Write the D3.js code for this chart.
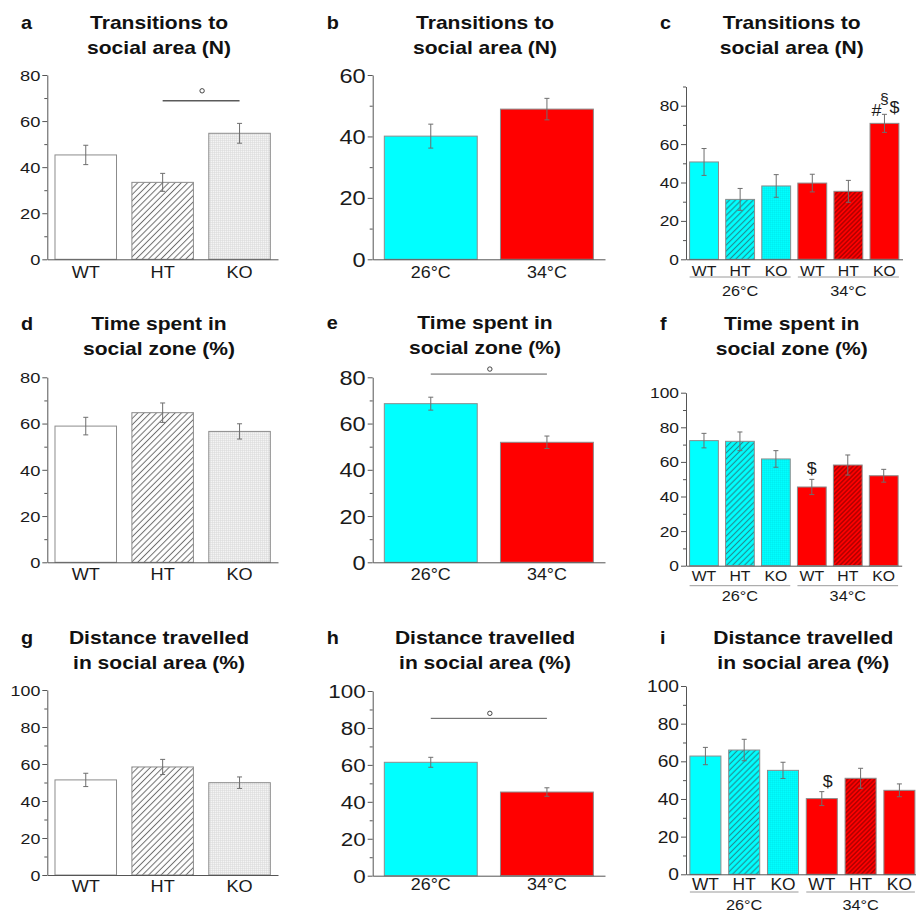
<!DOCTYPE html>
<html><head><meta charset="utf-8">
<script src="https://cdn.jsdelivr.net/npm/d3@7"></script>
<style>
body{margin:0;background:#fff}
svg{display:block}
text{font-family:"Liberation Sans",Arial,Helvetica,sans-serif;fill:#1a1a1a}
</style>
</head><body>
<svg id="fig" width="916" height="913"></svg>
<script>
// ---------- data ----------
const genotypes = ["WT","HT","KO"];
const temps = ["26°C","34°C"];
const genoTemp = ["WT","HT","KO","WT","HT","KO"];
const ticks60 = [0,20,40,60];
const ticks80 = [0,20,40,60,80];
const ticks100 = [0,20,40,60,80,100];
const titleTrans = ["Transitions to","social area (N)"];
const titleTime = ["Time spent in","social zone (%)"];
const titleDist = ["Distance travelled","in social area (%)"];

const transGeno = [45.3,33.4,54.7];
const transGenoErr = [4.2,3.9,4.3];
const transTemp = [40.1,48.9];
const transTempErr = [3.9,3.5];
const transGT = [50.7,31.2,38.2,39.7,35.4,70.8];
const transGTErr = [7.0,5.7,5.9,4.6,5.7,4.7];

const timeGeno = [58.9,64.7,56.6];
const timeGenoErr = [3.8,4.2,3.3];
const timeTemp = [68.6,51.9];
const timeTempErr = [2.8,2.7];
const timeGT = [72.3,71.9,61.7,45.5,58.2,52.0];
const timeGTErr = [4.2,5.4,4.8,4.4,5.8,3.7];

const distGeno = [51.4,58.4,49.9];
const distGenoErr = [3.6,4.1,3.1];
const distTemp = [61.4,45.3];
const distTempErr = [2.7,2.3];
const distGT = [62.8,66.0,55.2,40.2,51.0,44.6];
const distGTErr = [4.6,5.7,4.3,3.7,5.3,3.4];

// significance brackets: [fromIndex, toIndex, yValue]
const sigTransGeno = [1,2,68.8];
const sigTimeTemp = [0,1,81.4];
const sigDistTemp = [0,1,85.2];
// symbol annotations: [barIndex, symbol]
const symTransGT = [[5,"#"],[5,"§"],[5,"$"]];
const symTimeGT = [[3,"$"]];
const symDistGT = [[3,"$"]];

// ---------- drawing ----------
const svg = d3.select("#fig");
const defs = svg.append("defs");
function hatch(id, bg, line, size, w){
  const p = defs.append("pattern").attr("id",id).attr("patternUnits","userSpaceOnUse")
    .attr("width",size).attr("height",size).attr("patternTransform","rotate(45)");
  p.append("rect").attr("width",size).attr("height",size).attr("fill",bg);
  p.append("line").attr("x1",size/2).attr("x2",size/2).attr("y1",0).attr("y2",size)
    .attr("stroke",line).attr("stroke-width",w);
}
function grid(id, bg, line){
  const p = defs.append("pattern").attr("id",id).attr("patternUnits","userSpaceOnUse")
    .attr("width",2).attr("height",2);
  p.append("rect").attr("width",2).attr("height",2).attr("fill",bg);
  p.append("path").attr("d","M0,0.5H2M0.5,0V2").attr("stroke",line).attr("stroke-width",0.5);
}
hatch("hGray","#ffffff","#6e6e6e",4.4,1);
hatch("hCyan","#00ffff","#1f8f94",4.2,1.2);
hatch("hRed","#ff0000","#8a0000",3.2,1);
grid("gGray","#f4f4f4","#d9d9d9");
grid("gCyan","#00ffff","rgba(0,110,120,0.13)");

const CY = "#00ffff", RD = "#ff0000";
const genoFills = ["#ffffff","url(#hGray)","url(#gGray)"];
const tempFills = [CY, RD];
const gtFills = [CY,"url(#hCyan)","url(#gCyan)",RD,"url(#hRed)",RD];

function txt(g, x, y, s, o){
  return g.append("text")
    .attr("transform",`translate(${x},${y}) scale(${o.sx||1},1)`)
    .attr("text-anchor",o.anchor||"middle")
    .style("font-size",o.size+"px")
    .attr("font-weight",o.weight||"normal")
    .style("fill",o.fill||"#1a1a1a")
    .text(s);
}

const geno = {cats:genotypes, fills:genoFills, x0:47.3, x1:278, tickFs:15.5, tickSx:1.18, xFs:16.5, xSx:1.1, titleX:159, letterX:21};
const temp = {cats:temps, fills:tempFills, x0:372.7, x1:605, tickFs:20, tickSx:1.18, xFs:16, xSx:1.12, titleX:485, letterX:326.7};
const gt = {cats:genoTemp, fills:gtFills, x0:686, x1:902.5, tickFs:14.5, tickSx:1.2, xFs:15.5, xSx:1.02, titleX:791.7, letterX:660, groups:true};

const panels = [
  Object.assign({}, geno, {letter:"a", title:titleTrans, vals:transGeno, errs:transGenoErr, yMax:80, ticks:ticks80, y0:259.3, yTop:75, tY:29.3, xOff:19, sig:sigTransGeno, ringOff:-10, sigW:1.5}),
  Object.assign({}, temp, {letter:"b", title:titleTrans, vals:transTemp, errs:transTempErr, yMax:60, ticks:ticks60, y0:259.3, yTop:75, tY:29.3, xOff:19}),
  Object.assign({}, gt, {letter:"c", title:titleTrans, vals:transGT, errs:transGTErr, yMax:90, ticks:ticks80, y0:259.3, yTop:86.5, tY:29.3, xOff:16.2, gLine:17.7, gLab:36.5, syms:symTransGT, symOff:[[-8,1.5],[0,-10.5],[10,-1.5]]}),
  Object.assign({}, geno, {letter:"d", title:titleTime, vals:timeGeno, errs:timeGenoErr, yMax:80, ticks:ticks80, y0:562.3, yTop:377.3, tY:330, xOff:17.7}),
  Object.assign({}, temp, {letter:"e", title:titleTime, vals:timeTemp, errs:timeTempErr, yMax:80, ticks:ticks80, y0:562.3, yTop:377.3, tY:329, xOff:17.7, sig:sigTimeTemp, ringOff:-5, sigW:1}),
  Object.assign({}, gt, {letter:"f", title:titleTime, vals:timeGT, errs:timeGTErr, yMax:100, ticks:ticks100, y0:565.7, yTop:392.7, tY:330, xOff:15.3, gLine:20, gLab:35, x1:901.7, syms:symTimeGT, symOff:[[0,-5.5]]}),
  Object.assign({}, geno, {letter:"g", title:titleDist, vals:distGeno, errs:distGenoErr, yMax:100, ticks:ticks100, y0:875, yTop:690, tY:644.3, xOff:16.7, tickSx:1.15}),
  Object.assign({}, temp, {letter:"h", title:titleDist, vals:distTemp, errs:distTempErr, yMax:100, ticks:ticks100, y0:875.7, yTop:691, tY:644.3, xOff:14.5, tickFs:19, sig:sigDistTemp, ringOff:-5, sigW:1}),
  Object.assign({}, gt, {letter:"i", title:titleDist, vals:distGT, errs:distGTErr, yMax:100, ticks:ticks100, y0:874.3, yTop:686, tY:644.3, xOff:16, gLine:17.7, gLab:35.7, x1:918.8, tickFs:16, xFs:15.8, xSx:1.1, titleX:803.3, syms:symDistGT, symOff:[[6,-4.5]]})
];

panels.forEach(p => {
  const g = svg.append("g");
  const x = d3.scaleBand().domain(d3.range(p.vals.length)).range([p.x0, p.x1]).paddingInner(0.2).paddingOuter(0.1);
  const y = d3.scaleLinear().domain([0, p.yMax]).range([p.y0, p.yTop]);
  const bw = x.bandwidth();

  // title + letter
  txt(g, p.letterX, p.tY, p.letter, {size:18, weight:"bold", sx:1.1, anchor:"start", fill:"#111"});
  txt(g, p.titleX, p.tY, p.title[0], {size:18, weight:"bold", sx:1.17, fill:"#111"});
  txt(g, p.titleX, p.tY+24.5, p.title[1], {size:18, weight:"bold", sx:1.17, fill:"#111"});

  // bars
  g.selectAll("rect.bar").data(p.vals).join("rect").attr("class","bar")
    .attr("x",(d,i)=>x(i)).attr("y",d=>y(d))
    .attr("width",bw).attr("height",d=>y(0)-y(d))
    .attr("fill",(d,i)=>p.fills[i]).attr("stroke","#8c8c8c").attr("stroke-width",1);

  // error bars
  const eg = g.append("g").attr("stroke","#6e6e6e").attr("stroke-width",1);
  p.vals.forEach((v,i)=>{
    const cx = x(i)+bw/2, e = p.errs[i];
    eg.append("line").attr("x1",cx).attr("x2",cx).attr("y1",y(v-e)).attr("y2",y(v+e));
    eg.append("line").attr("x1",cx-2.5).attr("x2",cx+2.5).attr("y1",y(v-e)).attr("y2",y(v-e));
    eg.append("line").attr("x1",cx-2.5).attr("x2",cx+2.5).attr("y1",y(v+e)).attr("y2",y(v+e));
  });

  // y axis
  const ya = g.append("g").attr("transform",`translate(${p.x0},0)`)
    .call(d3.axisLeft(y).tickValues(p.ticks).tickSize(5).tickSizeOuter(0).tickPadding(2));
  ya.attr("font-size",null);
  ya.select(".domain").attr("stroke","#555");
  ya.selectAll(".tick line").attr("stroke","#555");
  ya.selectAll(".tick text").attr("x",null).attr("dy","0.35em")
    .attr("transform",`translate(-7,0) scale(${p.tickSx},1)`)
    .style("font-size",p.tickFs+"px").style("fill","#1a1a1a");
  const minors = p.ticks.slice(0,-1).map(t=>t+10).concat(p.yMax>p.ticks[p.ticks.length-1]?[p.ticks[p.ticks.length-1]+10]:[]);
  const ym = g.append("g").attr("transform",`translate(${p.x0},0)`)
    .call(d3.axisLeft(y).tickValues(minors).tickSize(3).tickSizeOuter(0).tickFormat(""));
  ym.select(".domain").remove();
  ym.selectAll(".tick line").attr("stroke","#555");

  // x axis
  const xa = g.append("g").attr("transform",`translate(0,${p.y0})`)
    .call(d3.axisBottom(x).tickSize(0).tickSizeOuter(0).tickFormat(i=>p.cats[i]));
  xa.attr("font-size",null);
  xa.select(".domain").attr("stroke","#555");
  xa.selectAll(".tick text").attr("y",null).attr("dy",null)
    .attr("transform",`translate(0,${p.xOff}) scale(${p.xSx},1)`)
    .style("font-size",p.xFs+"px").style("fill","#1a1a1a");

  // group labels (temperature) under genotype panels
  if (p.groups) {
    temps.forEach((t,k)=>{
      const a = x(k*3), b = x(k*3+2)+bw;
      g.append("line").attr("x1",a).attr("x2",b).attr("y1",p.y0+p.gLine).attr("y2",p.y0+p.gLine)
        .attr("stroke","#9a9a9a").attr("stroke-width",1);
      txt(g,(a+b)/2, p.y0+p.gLab, t, {size:15.5, sx:1.05});
    });
  }

  // significance bracket
  if (p.sig) {
    const [i0,i1,v] = p.sig;
    const xa0 = x(i0)+bw/2, xa1 = x(i1)+bw/2, yy = y(v);
    g.append("line").attr("x1",xa0).attr("x2",xa1).attr("y1",yy).attr("y2",yy)
      .attr("stroke","#5a5a5a").attr("stroke-width",p.sigW);
    g.append("circle").attr("cx",(xa0+xa1)/2+1).attr("cy",yy+p.ringOff).attr("r",2.2)
      .attr("fill","none").attr("stroke","#444").attr("stroke-width",1);
  }

  // symbols
  if (p.syms) {
    p.syms.forEach(([i,s],k)=>{
      const cx = x(i)+bw/2, top = y(p.vals[i]+p.errs[i]);
      const [dx,dy] = p.symOff[k];
      txt(g, cx+dx, top+dy, s, {size:s==="§"?15:17, sx:1.05});
    });
  }
});
</script>
</body></html>
